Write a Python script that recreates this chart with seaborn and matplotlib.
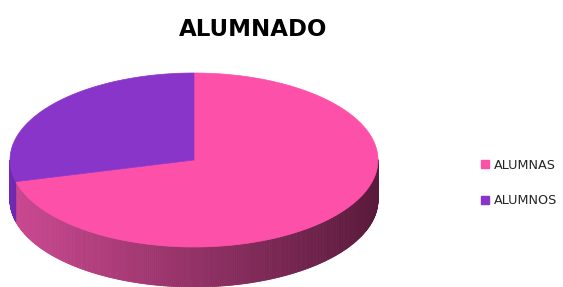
import numpy as np
import matplotlib
matplotlib.use('Agg')
import matplotlib.pyplot as plt
from matplotlib.patches import Polygon
from matplotlib.lines import Line2D
from matplotlib.colors import to_rgb
import seaborn as sns

#data
labels = ['ALUMNAS', 'ALUMNOS']
values = [71, 29]
title = 'ALUMNADO'

#colours: top face, side light end, side dark end
top_colors = ['#fd50a9', '#8a35ca']
side_light = ['#cc4992', '#7029b0']
side_dark = ['#5a1a3b', '#4a1a70']

sns.set_style('white')
plt.rcParams['font.family'] = ['DejaVu Sans']

fig = plt.figure(figsize=(5.63, 2.87), dpi=100)
ax = fig.add_axes([0, 0, 1, 1])
ax.set_xlim(0, 563)
ax.set_ylim(287, 0)
ax.axis('off')

#pie geometry (pixels)
cx, cy, rx, ry, depth = 194, 160, 184, 87, 40

def pt(t, dy=0):
    r = np.radians(t)
    return cx + rx * np.cos(r), cy - ry * np.sin(r) + dy

#slice angles: start at 90, go clockwise
fracs = np.array(values) / np.sum(values)
starts = 90 - 360 * np.concatenate([[0], np.cumsum(fracs)[:-1]])
ends = starts - 360 * fracs

#side faces first (front half only, sin t < 0)
for i in range(len(values)):
    a, b = ends[i], starts[i]
    ts = np.linspace(a, b, 400)
    c1 = np.array(to_rgb(side_light[i]))
    c2 = np.array(to_rgb(side_dark[i]))
    for k in range(len(ts) - 1):
        t0, t1 = ts[k], ts[k + 1]
        if np.sin(np.radians((t0 + t1) / 2)) > 0:
            continue
        x0, y0 = pt(t0)
        x1, y1 = pt(t1)
        f = ((x0 + x1) / 2 - (cx - rx)) / (2 * rx)
        col = c1 + (c2 - c1) * np.clip(f, 0, 1)
        poly = Polygon([(x0, y0), (x1, y1), (x1, y1 + depth), (x0, y0 + depth)],
                       closed=True, facecolor=col, edgecolor=col, linewidth=0.6)
        ax.add_patch(poly)

#top faces
for i in range(len(values)):
    ts = np.linspace(starts[i], ends[i], 300)
    pts = [(cx, cy)] + [pt(t) for t in ts]
    ax.add_patch(Polygon(pts, closed=True, facecolor=top_colors[i],
                         edgecolor=top_colors[i], linewidth=0.5))

ax.text(253, 29, title, ha='center', va='center', fontsize=16.5,
        fontweight='bold', color='black')

handles = [Line2D([0], [0], marker='s', linestyle='', markersize=6,
                  markerfacecolor=top_colors[i], markeredgecolor=top_colors[i])
           for i in range(len(labels))]
ax.legend(handles, labels, loc='center left', bbox_to_anchor=(0.832, 0.363),
          frameon=False, fontsize=9.2, handlelength=0.8, handletextpad=0.3,
          labelspacing=1.75)

fig.savefig('out.png', dpi=100)
